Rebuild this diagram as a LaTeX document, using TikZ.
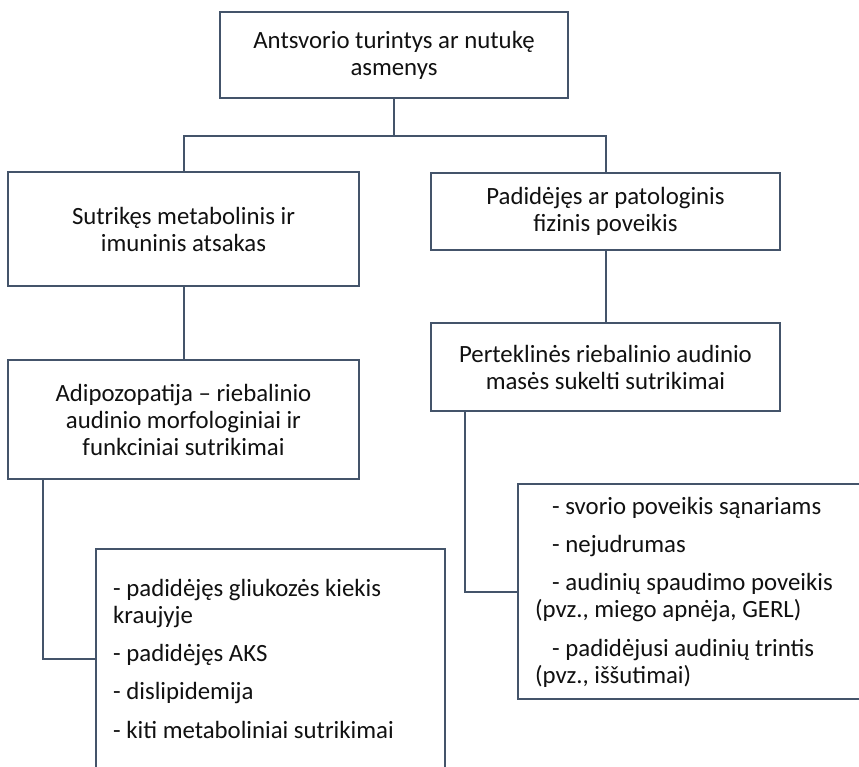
\documentclass[tikz,border=0pt]{standalone}
\usepackage{fontspec}
\setmainfont{Carlito}
\definecolor{linec}{HTML}{44546A}
\definecolor{txtc}{HTML}{111111}
\tikzset{
  box/.style={draw=linec, line width=2pt, rectangle, inner sep=0pt, align=center,
    font=\fontsize{24.8}{27}\selectfont, text=txtc},
  item/.style={anchor=west, inner sep=0pt, align=left,
    font=\fontsize{24.8}{27}\selectfont, text=txtc},
  conn/.style={draw=linec, line width=2pt}
}
\begin{document}
\begin{tikzpicture}[x=1pt,y=-1pt]
\useasboundingbox (0,0) rectangle (859,767);
\clip (0,0) rectangle (859,767);
\fill[white] (0,0) rectangle (859,767);
% boxes
\node[box, minimum width=348pt, minimum height=86pt] (top) at (394,55) {Antsvorio turintys ar nutukę\\asmenys};
\node[box, minimum width=351pt, minimum height=114pt] (L1) at (183.5,229) {Sutrikęs metabolinis ir\\imuninis atsakas};
\node[box, minimum width=349pt, minimum height=77pt] (R1) at (605.5,211.5) {Padidėjęs ar patologinis\\fizinis poveikis};
\node[box, minimum width=351pt, minimum height=119pt] (L2) at (183.5,419.5) {Adipozopatija -- riebalinio\\audinio morfologiniai ir\\funkciniai sutrikimai};
\node[box, minimum width=349pt, minimum height=88pt] (R2) at (605.5,367) {Perteklinės riebalinio audinio\\masės sukelti sutrikimai};
\node[box, minimum width=349pt, minimum height=251pt] (L3) at (270.5,674.5) {};
\node[box, minimum width=382pt, minimum height=215pt] (R3) at (709,591.5) {};
% list texts
\node[item] (l3a) at (113,603.5) {- padidėjęs gliukozės kiekis\\kraujyje};
\node[item] (l3b) at (113,655) {- padidėjęs AKS};
\node[item] (l3c) at (113,693) {- dislipidemija};
\node[item] (l3d) at (113,730) {- kiti metaboliniai sutrikimai};
\node[item] (r3a) at (535,508) {\hspace*{17pt}- svorio poveikis sąnariams};
\node[item] (r3b) at (535,546) {\hspace*{17pt}- nejudrumas};
\node[item] (r3c) at (535,597.5) {\hspace*{17pt}- audinių spaudimo poveikis\\(pvz., miego apnėja, GERL)};
\node[item] (r3d) at (535,663.5) {\hspace*{17pt}- padidėjusi audinių trintis\\(pvz., iššutimai)};
% connectors
\coordinate (j) at (394,136);
\draw[conn] (top.south) -- (j);
\draw[conn] (L1.north) |- (j) -| (R1.north);
\draw[conn] (L1.south) -- (L2.north);
\draw[conn] (R1.south) -- (R2.north);
\draw[conn] ([xshift=35pt]R2.south west) |- (R3.west);
\draw[conn] ([xshift=36pt]L2.south west) |- ([yshift=-111pt]L3.north west);
\end{tikzpicture}
\end{document}
